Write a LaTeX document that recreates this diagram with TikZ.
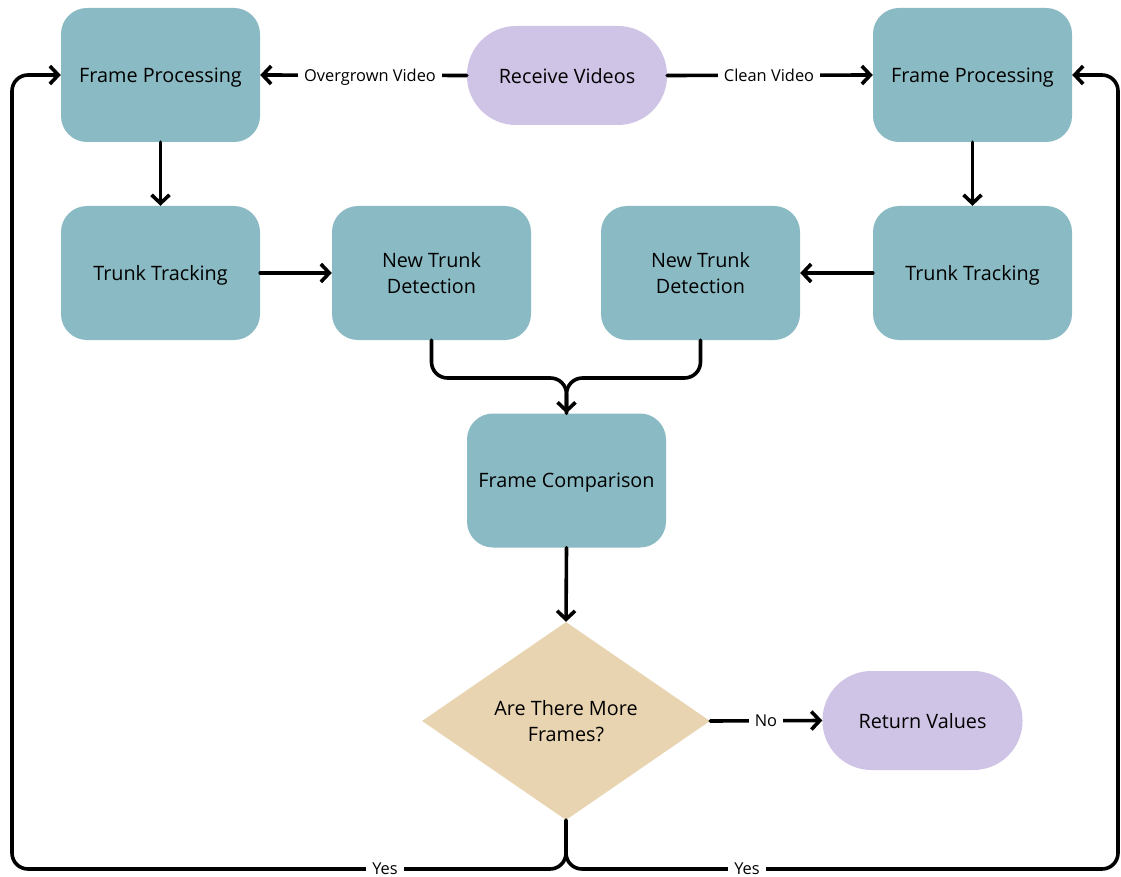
\documentclass[tikz,border=0pt]{standalone}
\usepackage{fontspec}
\setmainfont{Open Sans}
\usetikzlibrary{arrows.meta,shapes.geometric}
\definecolor{procteal}{HTML}{8ABAC3}
\definecolor{termlilac}{HTML}{CFC3E6}
\definecolor{decisiontan}{HTML}{E8D4B0}
\tikzset{
  boxtext/.style={align=center,text depth=0pt,font=\fontsize{19.8}{26}\selectfont},
  procbox/.style={boxtext,draw=none,fill=procteal,rounded corners=26pt,minimum width=199pt,minimum height=134pt},
  termbox/.style={boxtext,draw=none,fill=termlilac,rounded corners=49pt,minimum width=200pt,minimum height=99pt},
  decbox/.style={boxtext,draw=none,fill=decisiontan,diamond,minimum width=288pt,minimum height=198pt,inner sep=0pt},
  conn/.style={line width=3.6pt,line cap=round,line join=round,rounded corners=16pt},
  arr/.style={conn,-{Straight Barb[length=8.5pt,width=18pt,line width=3.6pt]}},
  lbl/.style={fill=white,inner xsep=6pt,inner ysep=0pt,text depth=0pt,font=\fontsize{16.4}{19}\selectfont}
}
\begin{document}
\begin{tikzpicture}[x=1pt,y=-1pt]
\useasboundingbox (0,0) rectangle (1121,877);
% nodes
\node[procbox] (fpl) at (160.5,75) {Frame Processing};
\node[termbox] (recv) at (567,75.5) {Receive Videos};
\node[procbox] (fpr) at (972.5,75) {Frame Processing};
\node[procbox] (ttl) at (160.5,273) {Trunk Tracking};
\node[procbox] (ntdl) at (431.5,273) {New Trunk\\Detection};
\node[procbox] (ntdr) at (700.5,273) {New Trunk\\Detection};
\node[procbox] (ttr) at (972.5,273) {Trunk Tracking};
\node[procbox] (fc) at (566.5,480.5) {Frame Comparison};
\node[decbox] (dec) at (566,721) {Are There More\\Frames?};
\node[termbox] (ret) at (922.5,720.5) {Return Values};
% bend points
\coordinate (merge) at (566.5,378);
\coordinate (loopl) at (12,869);
\coordinate (loopr) at (1118,869);
% connectors
\draw[arr] (recv.west) -- (fpl.east);
\node[lbl] (lov) at (370,75) {Overgrown Video};
\draw[arr] (recv.east) -- (fpr.west);
\node[lbl] (lcv) at (769,75) {Clean Video};
\draw[arr] (fpl.south) -- (ttl.north);
\draw[arr] (fpr.south) -- (ttr.north);
\draw[arr] (ttl.east) -- (ntdl.west);
\draw[arr] (ttr.west) -- (ntdr.east);
\draw[conn] (ntdl.south) |- (merge) -- (fc.north);
\draw[arr] (ntdr.south) |- (merge) -- (fc.north);
\draw[arr] (fc.south) -- (dec.north);
\draw[arr] (dec.east) -- (ret.west);
\node[lbl] (lno) at (766,721) {No};
\draw[arr] (dec.south) |- (loopl) |- (fpl.west);
\draw[arr] (dec.south) |- (loopr) |- (fpr.east);
\node[lbl] (lyl) at (385,869) {Yes};
\node[lbl] (lyr) at (747,869) {Yes};
\end{tikzpicture}
\end{document}
